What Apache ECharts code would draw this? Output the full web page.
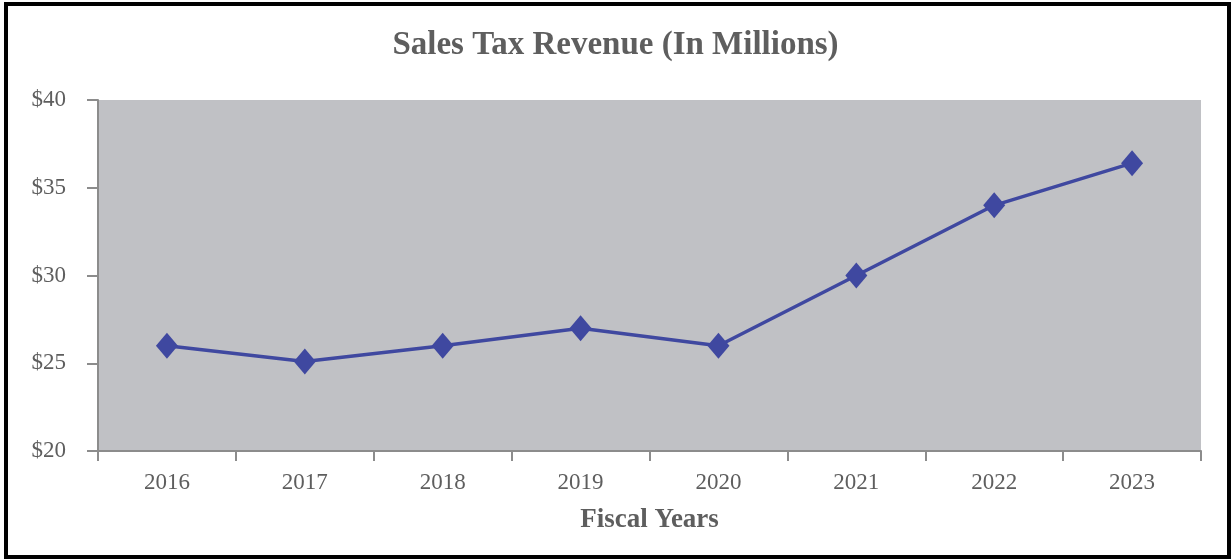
<!DOCTYPE html>
<html>
<head>
<meta charset="utf-8">
<script src="https://cdn.jsdelivr.net/npm/echarts@6/dist/echarts.min.js"></script>
<style>
  html, body { margin: 0; padding: 0; background: #ffffff; }
  #chart { width: 1231px; height: 559px; }
</style>
</head>
<body>
<div id="chart"></div>
<script>
// Sales tax revenue by fiscal year, in millions of dollars
const fiscalYears = ['2016', '2017', '2018', '2019', '2020', '2021', '2022', '2023'];
const revenueMillions = [26.0, 25.1, 26.0, 27.0, 26.0, 30.0, 34.0, 36.4];

const serif = '"Liberation Serif", "DejaVu Serif", serif';
const textGray = '#5e5e5e';
const axisGray = '#8c8c8c';

const chart = echarts.init(document.getElementById('chart'), null, { renderer: 'canvas' });

chart.setOption({
  animation: false,
  backgroundColor: '#ffffff',
  title: {
    text: 'Sales Tax Revenue (In Millions)',
    left: 'center',
    top: 24,
    textStyle: { fontFamily: serif, fontSize: 33, fontWeight: 'bold', color: textGray }
  },
  graphic: [{
    type: 'rect',
    shape: { x: 6, y: 4, width: 1223, height: 553 },
    style: { fill: 'none', stroke: '#000000', lineWidth: 4 },
    silent: true
  }],
  grid: {
    left: 98, right: 30, top: 100, bottom: 108,
    show: true, backgroundColor: '#c0c1c5', borderWidth: 0
  },
  xAxis: {
    type: 'category',
    data: fiscalYears,
    boundaryGap: true,
    name: 'Fiscal Years',
    nameLocation: 'middle',
    nameGap: 56,
    nameTextStyle: { fontFamily: serif, fontSize: 27, fontWeight: 'bold', color: textGray },
    axisLine: { show: true, lineStyle: { color: axisGray, width: 2 } },
    axisTick: { show: true, length: 10, lineStyle: { color: axisGray, width: 2 } },
    axisLabel: { fontFamily: serif, fontSize: 23, color: textGray, margin: 20 },
    splitLine: { show: false }
  },
  yAxis: {
    type: 'value',
    min: 20, max: 40, interval: 5,
    axisLine: { show: true, lineStyle: { color: axisGray, width: 2 } },
    axisTick: { show: true, length: 11, lineStyle: { color: axisGray, width: 2 } },
    axisLabel: {
      fontFamily: serif, fontSize: 23, color: textGray, margin: 32,
      formatter: v => '$' + v
    },
    splitLine: { show: false }
  },
  series: [{
    type: 'line',
    data: revenueMillions,
    symbol: 'diamond',
    symbolSize: [22, 26],
    showAllSymbol: true,
    lineStyle: { color: '#3f48a0', width: 3.5 },
    itemStyle: { color: '#3f48a0' }
  }]
});
</script>
</body>
</html>
